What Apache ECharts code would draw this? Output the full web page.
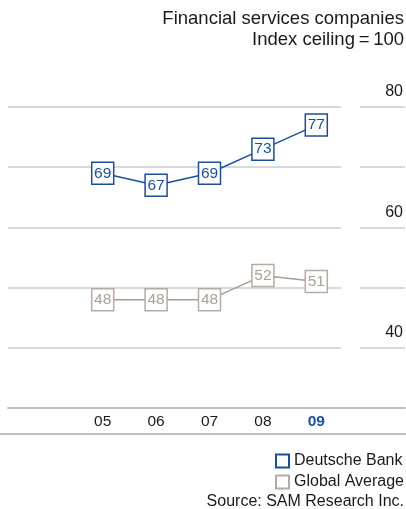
<!DOCTYPE html>
<html>
<head>
<meta charset="utf-8">
<script src="https://cdn.jsdelivr.net/npm/echarts@6/dist/echarts.min.js"></script>
<style>
html,body{margin:0;padding:0;background:#fff;}
#c{width:406px;height:509px;}
</style>
</head>
<body>
<div id="c"></div>
<script>
const years = ['05', '06', '07', '08', '09'];
const deutscheBank = [69, 67, 69, 73, 77];
const globalAverage = [48, 48, 48, 52, 51];
const yTickLabels = ['80', '60', '40'];
const seriesNames = ['Deutsche Bank', 'Global Average'];
const titleLines = ['Financial services companies', 'Index ceiling\u2009=\u2009100'];
const sourceText = 'Source: SAM Research Inc.';

const FONT = '"Liberation Sans", Arial, Helvetica, sans-serif';
const BLUE = '#1f4e98';
const GRAY_BORDER = '#b7aaa2';
const GRAY_TEXT = '#ada097';
const GRAY_LINE = '#a99c94';
const GRID_COLOR = '#c9ced3';

const chart = echarts.init(document.getElementById('c'), null, {renderer: 'canvas'});

function mkSeries(name, data, border, textColor, lineColor) {
  return {
    name: name,
    type: 'line',
    xAxisIndex: 0,
    yAxisIndex: 0,
    data: data,
    symbol: 'rect',
    symbolSize: [22, 22],
    showAllSymbol: true,
    lineStyle: {color: lineColor, width: 1.5},
    itemStyle: {color: '#fff', borderColor: border, borderWidth: 1.5},
    label: {
      show: true, position: 'inside', color: textColor,
      fontFamily: FONT, fontSize: 15.5
    },
    emphasis: {disabled: true},
    animation: false,
    z: 5
  };
}

chart.setOption({
  animation: false,
  textStyle: {fontFamily: FONT},
  legend: {
    orient: 'vertical',
    right: 2, top: 453,
    padding: 0,
    align: 'left',
    itemGap: 5,
    itemWidth: 13, itemHeight: 13,
    icon: 'rect',
    data: seriesNames,
    textStyle: {fontFamily: FONT, fontSize: 16, color: '#1a1a1a'},
    selectedMode: false
  },
  grid: [
    {left: 76, right: 63, top: 107, bottom: 101},
    {left: 8, right: 0, top: 107, bottom: 101}
  ],
  xAxis: [
    {
      gridIndex: 0, type: 'category',
      data: years.map((y, i) => i === years.length - 1
        ? {value: y, textStyle: {color: BLUE, fontWeight: 'bold'}}
        : y),
      boundaryGap: true,
      axisLine: {show: false}, axisTick: {show: false},
      axisLabel: {fontFamily: FONT, fontSize: 15.5, color: '#1a1a1a', margin: 6},
      splitLine: {show: false}
    },
    {
      gridIndex: 1, type: 'value', min: 0, max: 1,
      axisLine: {show: true, lineStyle: {color: '#b9c0c6', width: 2}},
      axisTick: {show: false}, axisLabel: {show: false}, splitLine: {show: false}
    }
  ],
  yAxis: [
    {
      gridIndex: 0, type: 'value', min: 30, max: 80, interval: 10,
      show: false, splitLine: {show: false}
    },
    {
      gridIndex: 1, type: 'value', min: 30, max: 80, interval: 10,
      position: 'right',
      axisLine: {show: false}, axisTick: {show: false},
      axisLabel: {
        inside: true, margin: 2, verticalAlign: 'bottom',
        fontFamily: FONT, fontSize: 16, color: '#1a1a1a',
        padding: [0, 0, 7, 0],
        formatter: v => yTickLabels.includes(String(v)) ? String(v) : ''
      },
      splitLine: {show: true, lineStyle: {color: GRID_COLOR, width: 1.5}}
    }
  ],
  graphic: [
    {
      type: 'rect', z: 1,
      shape: {x: 341, y: 98, width: 19, height: 255},
      style: {fill: '#fff'}
    },
    {
      type: 'line', z: 1,
      shape: {x1: 0, y1: 434, x2: 406, y2: 434},
      style: {stroke: '#b9c0c6', lineWidth: 2}
    },
    {
      type: 'text', z: 10,
      x: 404, y: 8,
      style: {
        text: titleLines.join('\n'),
        align: 'right', verticalAlign: 'top',
        font: '18.5px ' + FONT, lineHeight: 21, fill: '#1a1a1a'
      }
    },
    {
      type: 'text', z: 10,
      x: 404, y: 502,
      style: {
        text: sourceText,
        align: 'right', verticalAlign: 'middle',
        font: '16px ' + FONT, fill: '#1a1a1a'
      }
    }
  ],
  series: [
    mkSeries(seriesNames[0], deutscheBank, BLUE, BLUE, BLUE),
    mkSeries(seriesNames[1], globalAverage, GRAY_BORDER, GRAY_TEXT, GRAY_LINE)
  ]
});
</script>
</body>
</html>
